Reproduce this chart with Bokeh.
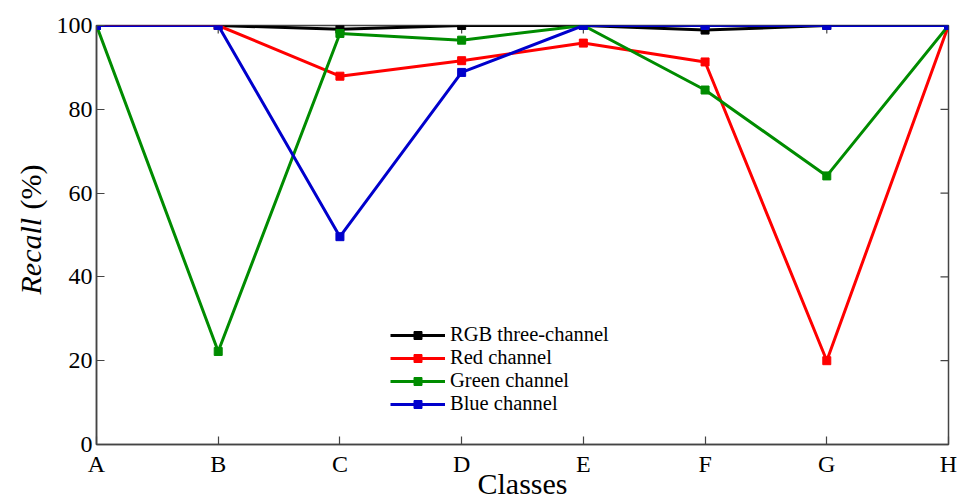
import math
from bokeh.plotting import figure
from bokeh.layouts import row
from bokeh.models import Range1d, FixedTicker, Legend, LegendItem, Label
from bokeh.embed import file_html
from bokeh.resources import INLINE

classes = ["A", "B", "C", "D", "E", "F", "G", "H"]
rgb = [100, 100, 99.1, 100, 100, 98.9, 100, 100]
red = [100, 100, 87.9, 91.6, 95.8, 91.3, 20.0, 100]
green = [100, 22.2, 98.1, 96.5, 100, 84.6, 64.1, 100]
blue = [100, 100, 49.6, 88.8, 100, 100, 100, 100]
y_ticks = [0, 20, 40, 60, 80, 100]

series = [("RGB three-channel", rgb, "#000000"),
          ("Red channel", red, "#ff0000"),
          ("Green channel", green, "#008c00"),
          ("Blue channel", blue, "#0000cc")]

FONT = "Liberation Serif"
AXC = "#444444"
xs = list(range(len(classes)))
n = len(classes)
H = 503
LW = 50

p = figure(width=958 - LW, height=H, output_backend="svg", toolbar_location=None,
           x_range=Range1d(0, n - 1), y_range=Range1d(0, 100),
           min_border_left=96 - LW, min_border_right=10, min_border_top=25, min_border_bottom=59)
p.grid.visible = False
p.outline_line_color = AXC
p.outline_line_width = 1.5
p.background_fill_color = "white"
p.border_fill_color = "white"

p.xaxis.ticker = FixedTicker(ticks=xs)
p.xaxis.major_label_overrides = {i: c for i, c in enumerate(classes)}
p.yaxis.ticker = FixedTicker(ticks=y_ticks)

for ax in [p.xaxis[0], p.yaxis[0]]:
    ax.major_tick_in = 8
    ax.major_tick_out = 0
    ax.minor_tick_line_color = None
    ax.axis_line_color = AXC
    ax.axis_line_width = 1.5
    ax.major_tick_line_color = AXC
    ax.major_tick_line_width = 1.2
    ax.major_label_text_font = FONT
    ax.major_label_text_font_size = "24px"
    ax.major_label_text_color = "black"

p.xaxis.major_label_standoff = 6
p.yaxis.major_label_standoff = 4
p.xaxis.axis_label = "Classes"
p.xaxis.axis_label_text_font = FONT
p.xaxis.axis_label_text_font_size = "30px"
p.xaxis.axis_label_text_font_style = "normal"
p.xaxis.axis_label_text_color = "black"
p.xaxis.axis_label_standoff = -13

# inward ticks on the right and top edges (clipped dashes)
p.scatter([n - 1] * len(y_ticks), y_ticks, marker="dash", size=16, angle=0,
          line_color=AXC, line_width=1.2)
p.scatter(xs, [100] * n, marker="dash", size=16, angle=math.pi / 2,
          line_color=AXC, line_width=1.2)

items = []
for name, vals, col in series:
    l = p.line(xs, vals, line_color=col, line_width=3)
    s = p.scatter(xs, vals, marker="square", size=8, fill_color=col, line_color=col)
    items.append(LegendItem(label=name, renderers=[l, s]))

leg = Legend(items=items, location=(294, 29), label_text_font=FONT,
             label_text_font_size="20.5px", label_text_color="black",
             label_text_line_height=0.85,
             glyph_width=55, glyph_height=20,
             label_height=20, label_standoff=5, spacing=0, padding=0,
             border_line_color=None, background_fill_alpha=0)
p.add_layout(leg, "center")

# narrow panel on the left holding the y-axis title (mixed italic / upright)
lp = figure(width=LW, height=H, output_backend="svg", toolbar_location=None,
            x_axis_location=None, y_axis_location=None,
            min_border_left=0, min_border_right=0, min_border_top=0, min_border_bottom=0)
lp.grid.visible = False
lp.outline_line_color = None
lp.border_fill_color = "white"
lp.background_fill_color = "white"
lp.add_layout(Label(x=30, x_units="screen", y=150, y_units="screen", text="Recall",
                    angle=math.pi / 2, text_font=FONT, text_font_size="30px", text_color="black",
                    text_font_style="italic", text_align="left", text_baseline="middle"))
lp.add_layout(Label(x=30, x_units="screen", y=235, y_units="screen", text="(%)",
                    angle=math.pi / 2, text_font=FONT, text_font_size="30px", text_color="black",
                    text_align="left", text_baseline="middle"))

layout = row(lp, p, spacing=0)
open("out.html", "w").write(file_html(layout, INLINE))
